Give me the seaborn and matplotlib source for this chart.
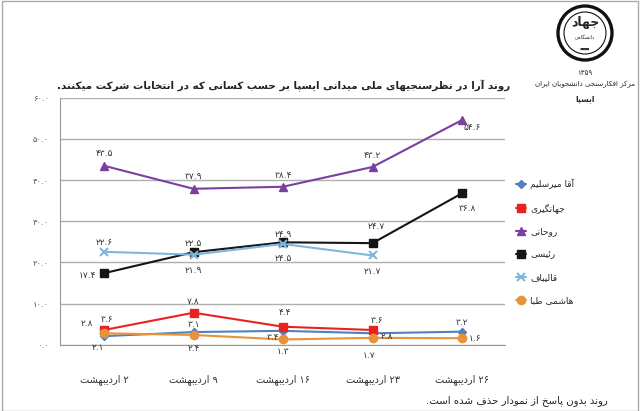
import re
import numpy as np
import pandas as pd
import matplotlib
matplotlib.use("Agg")
import matplotlib.pyplot as plt
import seaborn as sns
from matplotlib.patches import Ellipse, Rectangle

# داده ها
days = [2, 9, 16, 23, 26]
mirsalim = [2.1, 3.1, 3.4, 2.8, 3.2]
jahangiri = [3.6, 7.8, 4.4, 3.6, np.nan]
rouhani = [43.5, 37.9, 38.4, 43.2, 54.6]
raisi = [17.4, 22.5, 24.9, 24.7, 36.8]
qalibaf = [22.6, 21.9, 24.5, 21.7, np.nan]
hashemi = [2.8, 2.4, 1.3, 1.7, 1.6]

names = ["آقا میرسلیم", "جهانگیری", "روحانی", "رئیسی", "قالیباف", "هاشمی طبا"]
series = [mirsalim, jahangiri, rouhani, raisi, qalibaf, hashemi]
colors = ["#4f81bd", "#e8231f", "#7b3fa0", "#151515", "#7fb6dc", "#e8923a"]
marks = ["D", "s", "^", "s", "x", "o"]

title = "روند آرا در نظرسنجیهای ملی میدانی ایسپا بر حسب کسانی که در انتخابات شرکت میکنند."
footer = "روند بدون پاسخ از نمودار حذف شده است."
month = "اردیبهشت"

# --- شکل دهی حروف فارسی (بدون کتابخانه بیرونی) ---
FORMS = {
    'ا': (0xFE8D, 0xFE8E), 'آ': (0xFE81, 0xFE82), 'د': (0xFEA9, 0xFEAA),
    'ذ': (0xFEAB, 0xFEAC), 'ر': (0xFEAD, 0xFEAE), 'ز': (0xFEAF, 0xFEB0),
    'ژ': (0xFB8A, 0xFB8B), 'و': (0xFEED, 0xFEEE),
    'ب': (0xFE8F, 0xFE90, 0xFE91, 0xFE92), 'پ': (0xFB56, 0xFB57, 0xFB58, 0xFB59),
    'ت': (0xFE95, 0xFE96, 0xFE97, 0xFE98), 'ث': (0xFE99, 0xFE9A, 0xFE9B, 0xFE9C),
    'ج': (0xFE9D, 0xFE9E, 0xFE9F, 0xFEA0), 'چ': (0xFB7A, 0xFB7B, 0xFB7C, 0xFB7D),
    'ح': (0xFEA1, 0xFEA2, 0xFEA3, 0xFEA4), 'خ': (0xFEA5, 0xFEA6, 0xFEA7, 0xFEA8),
    'س': (0xFEB1, 0xFEB2, 0xFEB3, 0xFEB4), 'ش': (0xFEB5, 0xFEB6, 0xFEB7, 0xFEB8),
    'ص': (0xFEB9, 0xFEBA, 0xFEBB, 0xFEBC), 'ض': (0xFEBD, 0xFEBE, 0xFEBF, 0xFEC0),
    'ط': (0xFEC1, 0xFEC2, 0xFEC3, 0xFEC4), 'ظ': (0xFEC5, 0xFEC6, 0xFEC7, 0xFEC8),
    'ع': (0xFEC9, 0xFECA, 0xFECB, 0xFECC), 'غ': (0xFECD, 0xFECE, 0xFECF, 0xFED0),
    'ف': (0xFED1, 0xFED2, 0xFED3, 0xFED4), 'ق': (0xFED5, 0xFED6, 0xFED7, 0xFED8),
    'ک': (0xFB8E, 0xFB8F, 0xFB90, 0xFB91), 'گ': (0xFB92, 0xFB93, 0xFB94, 0xFB95),
    'ل': (0xFEDD, 0xFEDE, 0xFEDF, 0xFEE0), 'م': (0xFEE1, 0xFEE2, 0xFEE3, 0xFEE4),
    'ن': (0xFEE5, 0xFEE6, 0xFEE7, 0xFEE8), 'ه': (0xFEE9, 0xFEEA, 0xFEEB, 0xFEEC),
    'ی': (0xFBFC, 0xFBFD, 0xFBFE, 0xFBFF), 'ئ': (0xFE89, 0xFE8A, 0xFE8B, 0xFE8C),
}
DUAL = {c for c, f in FORMS.items() if len(f) == 4}


def shape(s):
    out = []
    for i, c in enumerate(s):
        if c not in FORMS:
            out.append(c)
            continue
        prev = s[i - 1] if i > 0 else ''
        nxt = s[i + 1] if i + 1 < len(s) else ''
        p = prev in DUAL
        n = c in DUAL and nxt in FORMS
        f = FORMS[c]
        if p and n:
            out.append(chr(f[3]))
        elif p:
            out.append(chr(f[1]))
        elif n:
            out.append(chr(f[2]))
        else:
            out.append(chr(f[0]))
    return ''.join(out)


def rtl(s):
    toks = re.findall(r'[0-9۰-۹]+(?:\.[0-9۰-۹]+)*|.', shape(s))
    return ''.join(toks[::-1])


def fa(x):
    return str(x).translate(str.maketrans('0123456789', '۰۱۲۳۴۵۶۷۸۹'))


def fit(t, width_px):
    # کوچک کردن متن تا در پهنای داده شده جا شود
    fig.canvas.draw()
    w = t.get_window_extent().width
    if w > width_px:
        t.set_fontsize(t.get_fontsize() * width_px / w)


sns.set_style("white")
plt.rcParams['font.family'] = ['DejaVu Sans']

fig = plt.figure(figsize=(6.4, 4.11), dpi=100)
ax = fig.add_axes([0.094, 0.161, 0.695, 0.601])

pos = list(range(len(days)))
for name, vals, col, m in zip(names, series, colors, marks):
    d = pd.DataFrame({"pos": pos, "value": vals}).dropna()
    sns.lineplot(data=d, x="pos", y="value", color=col, marker=m,
                 markersize=6 if m != "D" else 4.5, markeredgecolor=col,
                 markeredgewidth=1.5 if m == "x" else 1,
                 linewidth=1.5, label=rtl(name), ax=ax)

# برچسب داده ها (جابجایی به پیکسل)
offsets = [
    [(-6, -11), (0, 8), (-10, -7), (14, -3), (0, 9)],
    [(3, 11), (0, 11), (2, 14), (4, 10), None],
    [(0, 12), (0, 12), (0, 11), (0, 11), (10, -7)],
    [(-17, -2), (0, 9), (0, 8), (4, 17), (5, -15)],
    [(0, 9), (0, -16), (0, -15), (0, -16), None],
    [(-17, 10), (0, -14), (0, -12), (-3, -18), (13, 0)],
]
for vals, offs in zip(series, offsets):
    for i, (v, o) in enumerate(zip(vals, offs)):
        if o is None or np.isnan(v):
            continue
        ax.annotate(fa(f"{v:.1f}"), (i, v), xytext=o, textcoords="offset pixels",
                    ha="center", va="center", fontsize=6.5, color="#333333")

ax.set_xlim(-0.49, 4.48)
ax.set_ylim(0, 60)
ax.set_yticks(range(0, 61, 10))
ax.set_yticklabels([fa(f"{t}.0") for t in range(0, 61, 10)], fontsize=6, color="#555555")
ax.set_xticks(pos)
ax.set_xticklabels([rtl(fa(d) + " " + month) for d in days], fontsize=7, color="#333333")
ax.set_xticks(np.arange(0.5, 4.5, 1), minor=True)
ax.tick_params(axis="x", which="major", length=0, pad=21)
ax.tick_params(axis="x", which="minor", length=4, color="#999999", direction="out")
ax.tick_params(axis="y", length=3, color="#999999", pad=5)
ax.grid(axis="y", color="#b0b0b0", linewidth=1)
for side in ["top", "right"]:
    ax.spines[side].set_visible(False)
ax.spines["left"].set_color("#999999")
ax.spines["bottom"].set_color("#999999")
ax.set_xlabel("")
ax.set_ylabel("")

h, l = ax.get_legend_handles_labels()
ax.legend(h, l, loc="upper left", bbox_to_anchor=(0.8, 0.575), bbox_transform=fig.transFigure,
          frameon=False, fontsize=6.5, handlelength=1.2, labelspacing=1.55,
          handletextpad=0.4, borderaxespad=0)

t_title = fig.text(0.797, 0.792, rtl(title), ha="right", va="center", fontsize=9.5,
                   fontweight="bold", color="#222222")
t_foot = fig.text(0.95, 0.025, rtl(footer), ha="right", va="center", fontsize=7.5, color="#222222")
fit(t_title, 458)
fit(t_foot, 180)

# نشان
cx, cy = 585 / 640, 1 - 33 / 411
fig.patches.append(Ellipse((cx, cy), 54 / 640, 54 / 411, transform=fig.transFigure,
                           fill=False, edgecolor="#111111", linewidth=2.4))
fig.patches.append(Ellipse((cx, cy), 42 / 640, 42 / 411, transform=fig.transFigure,
                           fill=False, edgecolor="#111111", linewidth=0.8))
fig.text(cx, cy + 0.025, rtl("جهاد"), ha="center", va="center", fontsize=9, fontweight="bold")
fig.text(cx, cy - 0.012, rtl("دانشگاهی"), ha="center", va="center", fontsize=3.5)
fig.text(cx, cy - 0.04, "▬▬", ha="center", va="center", fontsize=4, color="#333333")
fig.text(cx, 1 - 73 / 411, fa(1359), ha="center", va="center", fontsize=5)
fig.text(cx, 1 - 84 / 411, rtl("مرکز افکارسنجی دانشجویان ایران"), ha="center", va="center", fontsize=5)
fig.text(cx, 1 - 99 / 411, rtl("ایسپا"), ha="center", va="center", fontsize=5.5, fontweight="bold")

fig.patches.append(Rectangle((0.003, 0.0), 0.994, 0.998, transform=fig.transFigure,
                             fill=False, edgecolor="#aaaaaa", linewidth=1))

fig.savefig("out.png", dpi=100)
